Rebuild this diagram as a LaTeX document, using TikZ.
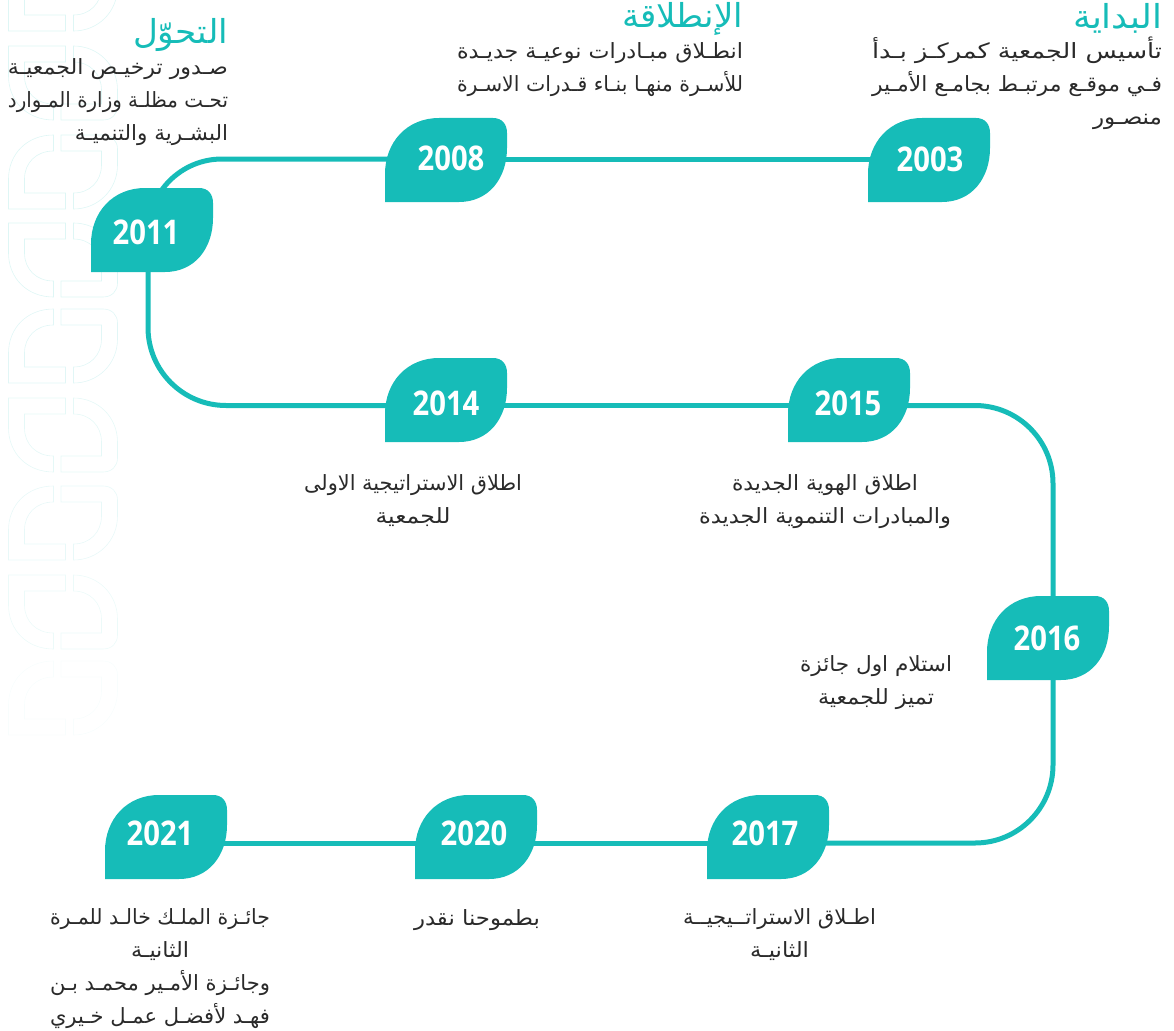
\documentclass[tikz,border=0pt]{standalone}
\usepackage{fontspec}
\usepackage{graphicx}
\usetikzlibrary{backgrounds}
\TeXXeTstate=1
\newfontfamily\arfont[Script=Arabic]{DejaVu Sans}
\newfontfamily\yearfont[FakeStretch=0.86]{Open Sans}
\definecolor{teal1}{HTML}{16BCB8}
\definecolor{ink}{HTML}{2A2A2A}
\newsavebox\arbox
% one right-to-left line, stretched to a given width
\newcommand\arl[2]{\sbox\arbox{#2}\pgfmathsetmacro\arf{#1/\the\wd\arbox}\rule[-10pt]{0pt}{24pt}\scalebox{\arf}[1]{\usebox\arbox}}
\newcommand\arh[2]{\sbox\arbox{#2}\pgfmathsetmacro\arf{#1/\the\wd\arbox}\scalebox{\arf}[1]{\usebox\arbox}}
\tikzset{
  conn/.style={draw=teal1,line width=5pt},
  leaf/.style={fill=teal1,draw=none},
  yearnode/.style={inner sep=0pt,outer sep=0pt,text=white,font=\yearfont\bfseries\fontsize{34}{36}\selectfont},
  bodytext/.style={inner sep=0pt,outer sep=0pt,text=ink,font=\arfont\fontsize{21}{32.8}\selectfont},
  headtext/.style={inner sep=0pt,outer sep=0pt,text=teal1,font=\arfont\fontsize{33}{36}\selectfont},
  mark1/.style={draw=#1,line width=0.6pt},
}
% \leafnode{year}{leaf x}{leaf y}{node x}{node y}{text cx}{text cy}
\newcommand\leafnode[7]{%
  \fill[leaf] (#2,#3+84) -- (#2,#3+56) .. controls (#2,#3+24) and (#2+22,#3) .. (#2+54,#3)
    -- (#2+108,#3) .. controls (#2+117,#3) and (#2+122,#3+6) .. (#2+122,#3+15)
    -- (#2+122,#3+30) .. controls (#2+122,#3+60) and (#2+104,#3+84) .. (#2+74,#3+84) -- cycle;
  \pgfmathsetmacro\kx{2*(#6-#4)}\pgfmathsetmacro\ry{#5-#7-12}%
  \node[yearnode] (n#1) at (#4,#5) {\raisebox{\ry pt}[0pt][0pt]{\makebox[0pt]{\kern\kx pt\relax #1}}};%
}
% pale logo row
\newcommand\markA[2]{%
  \begin{scope}[shift={(0,#1)}]
  \draw[mark1=#2] (53.5,0) .. controls (27,0) and (8.5,19) .. (8.5,44) -- (8.5,74) -- (65.5,74) -- (65.5,58) -- (24.5,58) -- (24.5,44) .. controls (24.5,28) and (36,16) .. (53.5,16) -- cycle;
  \draw[mark1=#2] (61,0) -- (103,0) .. controls (112,0) and (117.5,6) .. (117.5,14) -- (117.5,30) .. controls (117.5,55) and (98,74) .. (73.5,74) -- (73.5,58) .. controls (90,58) and (101.5,46) .. (101.5,30) -- (101.5,16) -- (61,16) -- cycle;
  \end{scope}}
\newcommand\markB[2]{%
  \begin{scope}[shift={(0,#1+74)},yscale=-1]
  \draw[mark1=#2] (53.5,0) .. controls (27,0) and (8.5,19) .. (8.5,44) -- (8.5,74) -- (65.5,74) -- (65.5,58) -- (24.5,58) -- (24.5,44) .. controls (24.5,28) and (36,16) .. (53.5,16) -- cycle;
  \draw[mark1=#2] (61,0) -- (103,0) .. controls (112,0) and (117.5,6) .. (117.5,14) -- (117.5,30) .. controls (117.5,55) and (98,74) .. (73.5,74) -- (73.5,58) .. controls (90,58) and (101.5,46) .. (101.5,30) -- (101.5,16) -- (61,16) -- cycle;
  \end{scope}}
\begin{document}
\begin{tikzpicture}[x=1pt,y=-1pt]
\useasboundingbox (0,0) rectangle (1174,1030);
\clip (0,0) rectangle (1174,1030);
% leaves
\leafnode{2003}{868}{118}{930}{159}{930}{159}
\leafnode{2008}{385}{118}{451}{159}{451}{158}
\leafnode{2011}{91}{188}{148}{233}{146}{232}
\leafnode{2014}{385}{358}{446}{405.5}{446}{403}
\leafnode{2015}{788}{358}{848}{405.5}{848}{403}
\leafnode{2016}{987}{596}{1053}{640}{1047}{638}
\leafnode{2017}{707}{795}{765}{843}{765}{833}
\leafnode{2020}{415}{795}{474}{843}{474}{833}
\leafnode{2021}{105}{795}{160}{843}{160}{833}
% connectors and watermark behind
\begin{scope}[on background layer]
\markA{-43}{teal1!14}
\markB{46}{teal1!14}
\markA{135}{teal1!14}
\markB{223}{teal1!14}
\markA{309}{teal1!13}
\markB{398}{teal1!11}
\markA{486}{teal1!10}
\markB{575}{teal1!8}
\markA{661}{teal1!3}
\draw[conn] (n2003.center) -- (n2008.center);
\draw[conn,rounded corners=74pt] (n2008.center) -| (n2011.center);
\draw[conn,rounded corners=78pt] (n2011.center) |- (n2014.center);
\draw[conn] (n2014.center) -- (n2015.center);
\draw[conn,rounded corners=78pt] (n2015.center) -| (n2016.center);
\draw[conn,rounded corners=78pt] (n2016.center) |- (n2017.center);
\draw[conn] (n2017.center) -- (n2020.center);
\draw[conn] (n2020.center) -- (n2021.center);
\end{scope}
% headings
\node[headtext,anchor=base east] (h2003) at (1162,29) {\arh{89}{\beginR البداية\endR}};
\node[headtext,anchor=base east] (h2008) at (743,28) {\arh{121}{\beginR الإنطلاقة\endR}};
\node[headtext,anchor=base east] (h2011) at (228,44) {\arh{95}{\beginR التحوّل\endR}};
% body texts
\node[bodytext,anchor=north east,align=right] (t2003) at (1162,37) {\arl{290}{\beginR تأسيس  الجمعية  كمركـز  بـدأ\endR}\\\arl{290}{\beginR فـي موقـع مرتبـط بجامـع الأمـير\endR}\\\arl{69}{\beginR منصـور\endR}};
\node[bodytext,anchor=north east,align=right] (t2008) at (743,43) {\arl{286}{\beginR انطـلاق مبـادرات نوعيـة جديـدة\endR}\\\arl{286}{\beginR للأسـرة منهـا بنـاء قـدرات الاسـرة\endR}};
\node[bodytext,anchor=north east,align=right] (t2011) at (228,59) {\arl{220}{\beginR صـدور ترخيـص الجمعيـة\endR}\\\arl{220}{\beginR تحـت مظلـة وزارة المـوارد\endR}\\\arl{153}{\beginR البشـرية والتنميـة\endR}};
\node[bodytext,anchor=north,align=center] (t2014) at (413,475) {\arl{218}{\beginR اطلاق الاستراتيجية الاولى\endR}\\\arl{75}{\beginR للجمعية\endR}};
\node[bodytext,anchor=north,align=center] (t2015) at (825,475) {\arl{186}{\beginR اطلاق الهوية الجديدة\endR}\\\arl{252}{\beginR والمبادرات التنموية الجديدة\endR}};
\node[bodytext,anchor=north,align=center] (t2016) at (876,656) {\arl{152}{\beginR استلام اول جائزة\endR}\\\arl{116}{\beginR تميز للجمعية\endR}};
\node[bodytext,anchor=north,align=center] (t2017) at (779.5,909) {\arl{193}{\beginR اطـلاق الاستراتــيجيــة\endR}\\\arl{59}{\beginR الثانيـة\endR}};
\node[bodytext,anchor=north,align=center] (t2020) at (477,910) {\arl{126}{\beginR بطموحنا نقدر\endR}};
\node[bodytext,anchor=north,align=center] (t2021) at (160,909) {\arl{220}{\beginR جائـزة الملـك خالـد للمـرة\endR}\\\arl{58}{\beginR الثانيـة\endR}\\\arl{220}{\beginR وجائـزة الأمـير محمـد بـن\endR}\\\arl{220}{\beginR فهـد لأفضـل عمـل خـيري\endR}};
\end{tikzpicture}
\end{document}
